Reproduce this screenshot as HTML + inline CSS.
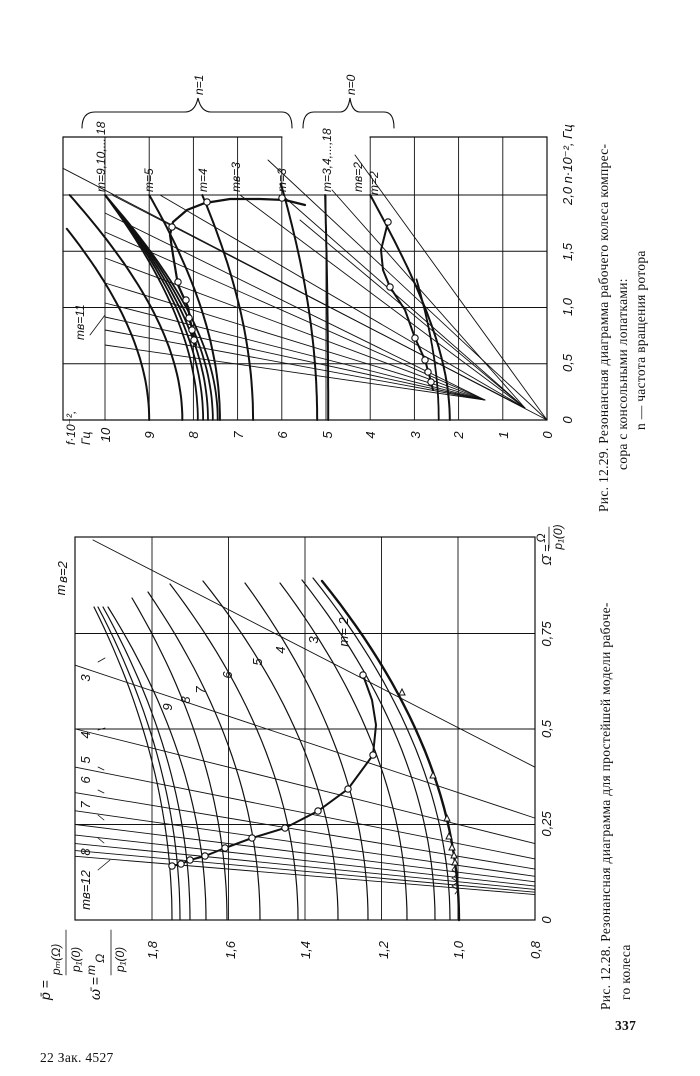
<!DOCTYPE html>
<html><head><meta charset="utf-8"><style>
html,body{margin:0;padding:0;background:#fff}
svg{display:block}
text{font-family:"Liberation Sans","DejaVu Sans",sans-serif;fill:#111}
.it{font-style:italic}
.cap{font-family:"Liberation Serif","DejaVu Serif",serif;font-size:13.5px;letter-spacing:0.3px}
</style></head><body>
<svg id="s" width="700" height="1076" viewBox="0 0 700 1076" xmlns="http://www.w3.org/2000/svg">
<g id="g" fill="none" stroke="#111" stroke-linecap="round"></g>
<g id="t"></g>
</svg>
<script>
const NS="http://www.w3.org/2000/svg";
const G=document.getElementById('g'),T=document.getElementById('t');
function el(p,tag,a){const e=document.createElementNS(NS,tag);for(const k in a)e.setAttribute(k,a[k]);p.appendChild(e);return e;}
function line(x1,y1,x2,y2,w){el(G,'line',{x1,y1,x2,y2,'stroke-width':w||0.9});}
function poly(pts,w){el(G,'polyline',{points:pts.map(p=>p[0].toFixed(1)+','+p[1].toFixed(1)).join(' '),'stroke-width':w||1});}
function circ(x,y){el(G,'circle',{cx:x,cy:y,r:3.2,fill:'#fff','stroke-width':1.1});}
function tri(x,y){el(G,'path',{d:`M${x-3},${y+3} L${x+3},${y+3} L${x},${y-3} Z`,fill:'#fff','stroke-width':1});}
function txt(x,y,s,sz,rot,cls,anchor){const e=el(T,'text',{x,y,'font-size':sz||12,'text-anchor':anchor||'start'});if(cls)e.setAttribute('class',cls);if(rot)e.setAttribute('transform',`rotate(${rot} ${x} ${y})`);e.textContent=s;return e;}

/* ===== LEFT CHART (Fig 12.28) ===== */
const X=p=>458-(p-1)*382.5, Y=o=>920-o*382;
// box
el(G,'rect',{x:75,y:537,width:460,height:383,'stroke-width':1.2});
[1.8,1.6,1.4,1.2,1.0].forEach(p=>line(X(p),537,X(p),920,0.9));
[0.25,0.5,0.75].forEach(o=>line(75,Y(o),535,Y(o),0.9));
// rays p = mb*Omega
for(let mb=2;mb<=12;mb++){
  let o1=Math.min(2.0/mb,0.99), o2=0.8/mb;
  let x1=X(mb*o1), y1=Y(o1);
  if(mb==2){x1=93;y1=540;}
  line(x1,y1,535,Y(o2),0.9);
}
// curves: bottom x, top x, top y
const LC=[[459,322,581,2.4],[450,313,578],[435,302,580],[407,280,583],[368,245,583],[338,203,581],[298,170,584],[260,148,592],[227,132,598],[206,108,607],[190,103,607],[180,98,607],[172,94,607]];
LC.forEach(c=>{const pts=[];for(let i=0;i<=30;i++){const t=i/30;pts.push([c[0]+(c[1]-c[0])*t*t,920-(920-c[2])*t]);}poly(pts,c[3]||1.2);});
// locus
const LL=[[363,675],[372,700],[376,725],[373,755],[348,789],[318,811],[285,828],[252,838],[225,848],[205,856],[190,860],[181,864],[172,866]];
poly(LL,2);LL.forEach((p,i)=>{if(i!=1&&i!=2)circ(p[0],p[1]);});
[[402,692],[433,775],[447,818],[449,836],[452,847],[454,855],[455,862]].forEach(p=>tri(p[0],p[1]));
poly([[455,866],[452,870],[458,874],[452,878],[458,882],[452,886],[458,890],[455,894]],0.8);
// ticks labels
[['1,8',152],['1,6',230],['1,4',305],['1,2',383],['1,0',458],['0,8',535]].forEach(a=>txt(a[1]+5,950,a[0],13,-90,'it','middle'));
[['0',920],['0,25',824],['0,5',729],['0,75',634]].forEach(a=>txt(551,a[1],a[0],13,-90,'it','middle'));
txt(551,555,'Ω̄ =',13,-90,'it','middle');
txt(545,538,'Ω',12,-90,'it','middle');line(549,527,549,548,0.8);txt(562,537,'p₁(0)',12,-90,'it','middle');
// left axis labels
txt(50,1000,'p̄ =',14,-90,'it','start');txt(60,975,'pₘ(Ω)',12,-90,'it','start');line(66,975,66,930,0.8);txt(80,972,'p₁(0)',12,-90,'it','start');
txt(100,1000,'ω̄ =',14,-90,'it','start');txt(95,975,'m',12,-90,'it','start');txt(104,963,'Ω',12,-90,'it','start');line(111,975,111,930,0.8);txt(124,972,'p₁(0)',12,-90,'it','start');
// curve labels
[['m= 2',348,632],['3',318,640],['4',285,650],['5',262,662],['6',232,675],['7',205,690],['8',190,700],['9',172,707]].forEach(a=>txt(a[1],a[2],a[0],13,-90,'it','middle'));
[['m',65,590],['в=2',65,572]].forEach(a=>txt(a[1]+ (a[0]=='m'?0:2),a[2],a[0],13,-90,'it','middle'));
[['3',92,678],['4',92,735],['5',92,760],['6',92,780],['7',92,805],['8',92,852],['mв=12',92,890]].forEach(a=>txt(a[1]-2,a[2],a[0],13,-90,'it','middle'));
[[98,662,105,658],[98,730,105,728],[98,767,104,770],[98,790,104,793],[98,815,104,820],[98,838,104,843],[98,870,110,860]].forEach(a=>line(a[0],a[1],a[2],a[3],0.8));

/* ===== RIGHT CHART (Fig 12.29) ===== */
const FX=f=>547-f*44.2, NY=n=>420-n*112.5;
line(63,137,282,137,1.2);line(370,137,547,137,1.2);line(63,137,63,420,1.2);line(63,420,547,420,1.2);line(547,137,547,420,1.2);
for(let f=1;f<=10;f++)line(FX(f),(f==5||f==6||f==4)?195:137,FX(f),420,0.9);
line(FX(6),137,FX(6),195,0.9);line(FX(4),137,FX(4),195,0.9);
[0.5,1,1.5,2].forEach(n=>line(63,NY(n),547,NY(n),0.9));
// rays
[[105,213],[105,232],[105,258],[105,283],[105,303],[105,317],[105,330],[105,345]].forEach(e=>line(485,400,e[0],e[1],0.9));
[[112,195],[160,195],[240,195],[282,195],[332,190],[300,220]].forEach(e=>line(525,408,e[0],e[1],0.9));
line(547,420,268,160,0.9);line(547,420,355,155,0.9);line(547,420,63,420-484*0.52,0.9);
// curves f(n)
function fc(f0,f2,w,nmax){const a=(f2*f2-f0*f0)/4;const pts=[];for(let i=0;i<=40;i++){const n=(nmax||2)*i/40;const f=Math.sqrt(f0*f0+a*n*n);if(f>10.95)break;pts.push([FX(f),NY(n)]);}poly(pts,w||2);}
fc(9.0,11.5);fc(8.25,10.8);[7.9,7.78,7.67,7.56,7.45].forEach(f=>fc(f,10,1.8));fc(7.4,9);fc(6.65,7.8);fc(5.2,5.95,2,2.1);fc(4.95,5.02);fc(2.2,4.0);fc(2.45,3.6,1.8,1.25);
// loci
const R1=[[305,205],[285,200],[260,199],[230,199],[205,203],[187,210],[173,222],[170,235],[173,255],[178,285],[188,307],[192,330],[196,345]];
poly(R1,2.2);[[282,198],[207,202],[172,227],[178,282],[186,300],[189,318],[192,330],[194,340]].forEach(p=>circ(p[0],p[1]));
const R2=[[388,222],[381,250],[383,270],[390,287],[405,310],[415,338],[425,360],[430,378],[433,390]];
poly(R2,2);[[388,222],[390,287],[415,338],[425,360],[428,372],[431,382]].forEach(p=>circ(p[0],p[1]));
// tick labels
[['10',105],['9',149],['8',193],['7',238],['6',282],['5',327],['4',370],['3',415],['2',458],['1',503],['0',547]].forEach(a=>txt(a[1]+5,435,a[0],13,-90,'it','middle'));
[['0',420],['0,5',363],['1,0',307],['1,5',252]].forEach(a=>txt(572,a[1],a[0],13,-90,'it','middle'));
txt(572,205,'2,0 n·10⁻², Гц',13,-90,'it','start');
txt(75,445,'f·10⁻²,',12,-90,'it','start');txt(90,445,'Гц',12,-90,'it','start');
// labels
txt(105,192,'m=9,10,...,18',12,-90,'it','start');txt(153,192,'m=5',12,-90,'it','start');txt(207,192,'m=4',12,-90,'it','start');
txt(240,192,'mв=3',12,-90,'it','start');txt(286,192,'m=3',12,-90,'it','start');txt(331,192,'m=3,4,...,18',12,-90,'it','start');
txt(362,192,'mв=2',12,-90,'it','start');txt(378,195,'m=2',12,-90,'it','start');txt(84,340,'mв=11',12,-90,'it','start');line(90,335,105,315,0.8);
// braces
el(G,'path',{d:'M82,128 Q82,112 95,112 L185,112 Q195,112 198,98 Q201,112 211,112 L282,112 Q292,112 292,128','stroke-width':1.1});
el(G,'path',{d:'M303,128 Q303,112 314,112 L340,112 Q348,112 350,98 Q352,112 360,112 L384,112 Q394,112 394,128','stroke-width':1.1});
txt(203,95,'n=1',12,-90,'it','start');txt(355,95,'n=0',12,-90,'it','start');

/* ===== Captions ===== */
txt(610,1010,'Рис. 12.28. Резонансная диаграмма для простейшей модели рабоче-',13.5,-90,'cap','start');
txt(630,1000,'го колеса',13.5,-90,'cap','start');
txt(608,512,'Рис. 12.29. Резонансная диаграмма рабочего колеса компрес-',13.5,-90,'cap','start');
txt(627,470,'сора с консольными лопатками:',13.5,-90,'cap','start');
txt(645,430,'n — частота вращения ротора',13.5,-90,'cap','start');
const pg=txt(615,1030,'337',15,0,'cap','start');pg.setAttribute('font-weight','bold');
txt(40,1062,'22 Зак. 4527',12.5,0,'cap','start');
</script>
</body></html>
